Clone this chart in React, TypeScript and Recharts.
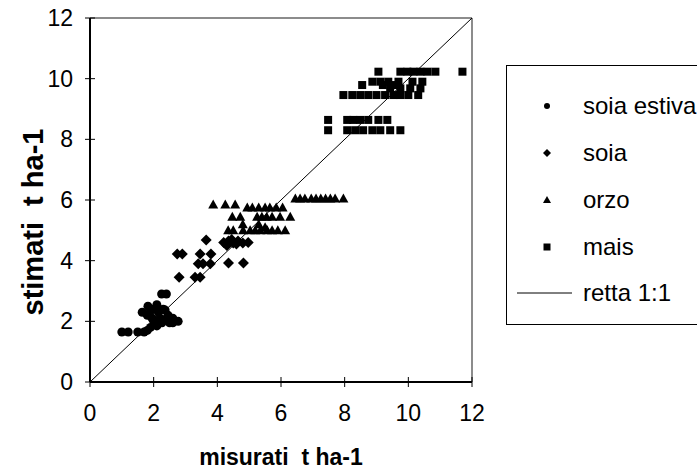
import React from 'react';
import { ScatterChart, Scatter, XAxis, YAxis, ReferenceLine } from 'recharts';

// valori: [misurati, stimati] in t ha-1
const soiaEstiva: number[][] = [
	[1.0, 1.65], [1.2, 1.65], [1.5, 1.65], [1.7, 1.65], [1.8, 1.7],
	[1.64, 2.3], [1.82, 2.5], [2.1, 2.55], [1.95, 2.1], [1.9, 1.8],
	[2.45, 2.2], [2.77, 2.0], [2.6, 2.1], [2.26, 1.95], [2.15, 2.3],
	[2.36, 2.37], [2.25, 2.9], [2.4, 2.9], [2.0, 2.4], [1.9, 2.35],
	[2.2, 2.1], [2.0, 2.0], [2.3, 2.4], [2.5, 1.95], [2.1, 1.85],
	[1.8, 2.2], [2.35, 2.05], [2.6, 1.95],
];

const soia: number[][] = [
	[2.8, 3.45], [3.3, 3.45], [3.46, 3.45], [2.74, 4.22], [2.9, 4.22],
	[3.46, 4.22], [3.8, 4.22], [3.4, 3.9], [3.55, 3.9], [3.78, 3.9],
	[3.65, 4.68], [4.35, 3.92], [4.82, 3.92], [4.2, 4.6], [4.35, 4.65],
	[4.5, 4.58], [4.65, 4.65], [4.8, 4.58], [4.97, 4.6], [4.3, 4.5],
	[4.6, 4.55], [4.45, 4.7],
];

const orzo: number[][] = [
	[3.87, 5.85], [4.25, 5.85], [4.56, 5.85],
	[4.94, 5.75], [5.1, 5.75], [5.3, 5.75], [5.5, 5.75], [5.65, 5.75], [5.85, 5.75], [6.05, 5.75],
	[4.47, 5.45], [4.72, 5.45], [5.25, 5.45], [5.4, 5.45], [5.55, 5.45], [5.72, 5.45], [5.97, 5.45], [6.29, 5.45],
	[4.8, 5.2], [5.3, 5.2], [5.5, 5.1],
	[4.34, 5.0], [4.5, 5.0], [4.81, 5.0], [5.03, 5.0], [5.19, 5.0], [5.35, 5.0], [5.57, 5.0], [5.72, 5.0], [5.9, 5.0], [6.13, 5.0],
	[6.45, 6.05], [6.6, 6.05], [6.75, 6.05], [6.95, 6.05], [7.1, 6.05], [7.25, 6.05], [7.4, 6.05], [7.55, 6.05], [7.7, 6.05], [7.96, 6.05],
];

const mais: number[][] = [
	[9.06, 10.23], [9.75, 10.23], [9.97, 10.23], [10.16, 10.23], [10.38, 10.23], [10.6, 10.23], [10.85, 10.23], [11.7, 10.23],
	[8.87, 9.9], [9.12, 9.9], [9.37, 9.9], [9.69, 9.9], [10.13, 9.9], [10.44, 9.9],
	[8.55, 9.79], [9.2, 9.79], [9.53, 9.79],
	[9.43, 9.68], [9.75, 9.68], [10.06, 9.68], [10.38, 9.68],
	[7.96, 9.46], [8.24, 9.46], [8.49, 9.46], [8.74, 9.46], [9.0, 9.46], [9.27, 9.46], [9.53, 9.46], [9.75, 9.46], [10.0, 9.46], [10.31, 9.46],
	[7.48, 8.64], [8.08, 8.64], [8.27, 8.64], [8.49, 8.64], [8.74, 8.64], [9.06, 8.64], [9.34, 8.64],
	[7.48, 8.3], [8.08, 8.3], [8.33, 8.3], [8.58, 8.3], [8.87, 8.3], [9.12, 8.3], [9.43, 8.3], [9.75, 8.3],
];

const axisTicks = [0, 2, 4, 6, 8, 10, 12];
const legendLabels = ['soia estiva', 'soia', 'orzo', 'mais', 'retta 1:1'];
const xTitle = 'misurati\u00A0 t ha-1';
const yTitle = 'stimati\u00A0 t ha-1';

const FONT = '"Liberation Sans", Arial, sans-serif';
const W = 697;
const H = 470;
const PLOT_LEFT = 90;
const PLOT_TOP = 18;
const PLOT_RIGHT = 472;
const PLOT_BOTTOM = 382;
const FS = 23;

const toPoints = (arr: number[][]) => arr.map(([x, y]) => ({ x, y }));

function Circle({ cx, cy, r = 4.5 }: any) {
	return <circle cx={cx} cy={cy} r={r} fill='#000' />;
}

function Diamond({ cx, cy, s = 5.5 }: any) {
	return <polygon points={`${cx},${cy - s} ${cx + s},${cy} ${cx},${cy + s} ${cx - s},${cy}`} fill='#000' />;
}

function Triangle({ cx, cy, s = 5 }: any) {
	return <polygon points={`${cx},${cy - s} ${cx + s},${cy + s - 1} ${cx - s},${cy + s - 1}`} fill='#000' />;
}

function Square({ cx, cy, s = 4 }: any) {
	return <rect x={cx - s} y={cy - s} width={s * 2} height={s * 2} fill='#000' />;
}

function YTick({ y, payload }: any) {
	return (
		<g>
			<line x1={PLOT_LEFT - 5} x2={PLOT_LEFT + 5} y1={y} y2={y} stroke='#000' strokeWidth={1} />
			<text x={PLOT_LEFT - 17} y={y} dy='0.35em' textAnchor='end' fontFamily={FONT} fontSize={FS} fill='#000'>
				{payload.value}
			</text>
		</g>
	);
}

function XTick({ x, payload }: any) {
	return (
		<g>
			<line x1={x} x2={x} y1={PLOT_BOTTOM - 5} y2={PLOT_BOTTOM + 5} stroke='#000' strokeWidth={1} />
			<text x={x} y={PLOT_BOTTOM + 31} dy='0.35em' textAnchor='middle' fontFamily={FONT} fontSize={FS} fill='#000'>
				{payload.value}
			</text>
		</g>
	);
}

function LegendBox() {
	const rowY = [41, 88, 135, 182, 228];
	const symbols = [
		<Circle cx={41} cy={rowY[0]} r={3} />,
		<Diamond cx={41} cy={rowY[1]} s={4} />,
		<Triangle cx={41} cy={rowY[2]} s={4} />,
		<Square cx={41} cy={rowY[3]} s={3.5} />,
		<line x1={11} x2={66} y1={rowY[4]} y2={rowY[4]} stroke='#000' strokeWidth={1} />,
	];
	return (
		<div
			style={{
				position: 'absolute',
				left: 506,
				top: 65,
				width: 200,
				height: 260,
				border: '1px solid #000',
				boxSizing: 'border-box',
				background: '#fff',
			}}>
			<svg width={200} height={260} style={{ position: 'absolute', left: -1, top: -1 }}>
				{legendLabels.map((label, i) => (
					<g key={label}>
						{symbols[i]}
						<text x={77} y={rowY[i]} dy='0.35em' fontFamily={FONT} fontSize={24} fill='#000'>
							{label}
						</text>
					</g>
				))}
			</svg>
		</div>
	);
}

export default function App() {
	return (
		<div style={{ position: 'absolute', left: 0, top: 0, width: W, height: H, overflow: 'hidden', background: '#fff' }}>
			<ScatterChart
				width={W}
				height={H}
				margin={{ top: PLOT_TOP, right: W - PLOT_RIGHT, bottom: 0, left: 0 }}>
				<XAxis
					type='number'
					dataKey='x'
					domain={[0, 12]}
					ticks={axisTicks}
					height={H - PLOT_BOTTOM}
					axisLine={{ stroke: '#000', strokeWidth: 2 }}
					tickLine={false}
					tick={<XTick />}
					label={{
						content: () => (
							<text
								x={(PLOT_LEFT + PLOT_RIGHT) / 2}
								y={457}
								dy='0.35em'
								textAnchor='middle'
								fontFamily={FONT}
								fontSize={FS}
								fontWeight='bold'
								fill='#000'>
								{xTitle}
							</text>
						),
					}}
				/>
				<YAxis
					type='number'
					dataKey='y'
					domain={[0, 12]}
					ticks={axisTicks}
					width={PLOT_LEFT}
					axisLine={{ stroke: '#000', strokeWidth: 2 }}
					tickLine={false}
					tick={<YTick />}
					label={{
						content: () => (
							<text
								x={33}
								y={222}
								dy='0.35em'
								textAnchor='middle'
								transform='rotate(-90 33 222)'
								fontFamily={FONT}
								fontSize={29}
								fontWeight='bold'
								fill='#000'>
								{yTitle}
							</text>
						),
					}}
				/>
				<ReferenceLine y={12} stroke='#666' strokeWidth={1.5} />
				<ReferenceLine x={12} stroke='#666' strokeWidth={1.5} />
				<ReferenceLine segment={[{ x: 0, y: 0 }, { x: 12, y: 12 }]} stroke='#000' strokeWidth={1} />
				<Scatter name='soia estiva' data={toPoints(soiaEstiva)} shape={<Circle />} isAnimationActive={false} />
				<Scatter name='soia' data={toPoints(soia)} shape={<Diamond />} isAnimationActive={false} />
				<Scatter name='orzo' data={toPoints(orzo)} shape={<Triangle />} isAnimationActive={false} />
				<Scatter name='mais' data={toPoints(mais)} shape={<Square />} isAnimationActive={false} />
			</ScatterChart>
			<LegendBox />
		</div>
	);
}
